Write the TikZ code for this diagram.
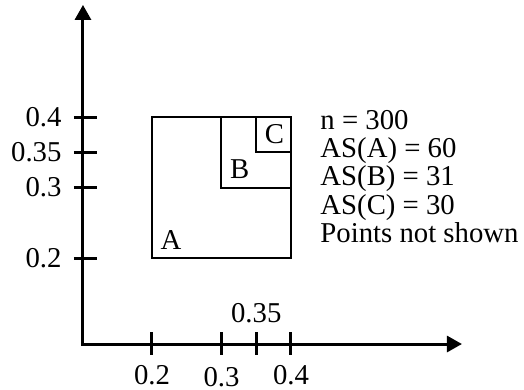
\documentclass[tikz,border=0pt]{standalone}
\usepackage{fontspec}
\setmainfont{Liberation Serif}
\usetikzlibrary{arrows.meta}

\begin{document}
\begin{tikzpicture}[x=278pt,y=282pt,
  axis/.style={line width=1.2pt,
               {Triangle[length=6pt,width=6.4pt]}-{Triangle[length=6pt,width=6.4pt]}},
  tickmark/.style={line width=1.2pt},
  box/.style={line width=0.8pt},
  every node/.style={font=\fontsize{11.5}{11.3}\selectfont,inner sep=0pt},
  boxlabel/.style={anchor=south west,inner sep=3.3pt}]
  \useasboundingbox (-0.0187,0.0128) rectangle (0.7353,0.566);
  % axes
  \coordinate (O) at (0.1007,0.078);
  \coordinate (xend) at (0.646,0.078);
  \coordinate (yend) at (0.1007,0.559);
  \draw[axis] (yend) -- (O) -- (xend);
  % y ticks
  \foreach \v [count=\i] in {0.4,0.35,0.3,0.2} {
    \draw[tickmark] ([xshift=-3.6pt]0.1007,\v) -- ([xshift=5.6pt]0.1007,\v);
    \node[anchor=east] (ylab\i) at ([xshift=-8.4pt]0.1007,\v) {\v};
  }
  % x ticks
  \foreach \v in {0.2,0.3,0.35,0.4}
    \draw[tickmark] ([yshift=4.8pt]\v,0.078) -- ([yshift=-4.4pt]\v,0.078);
  \node (xlab1) at (0.2,0.0335) {0.2};
  \node (xlab2) at (0.3,0.031) {0.3};
  \node (xlab3) at (0.35,0.122) {0.35};
  \node (xlab4) at (0.4,0.0335) {0.4};
  % nested squares
  \draw[box] (0.2,0.2) rectangle (0.4,0.4);
  \draw[box] (0.3,0.3) rectangle (0.4,0.4);
  \draw[box] (0.35,0.35) rectangle (0.4,0.4);
  \node[boxlabel] (labA) at (0.2,0.2) {A};
  \node[boxlabel] (labB) at (0.3,0.3) {B};
  \node[boxlabel] (labC) at (0.35,0.35) {C};
  % legend
  \node[anchor=west,align=left] (info) at (0.4417,0.3156)
    {n = 300\\ AS(A) = 60\\ AS(B) = 31\\ AS(C) = 30\\ Points not shown};
\end{tikzpicture}
\end{document}
